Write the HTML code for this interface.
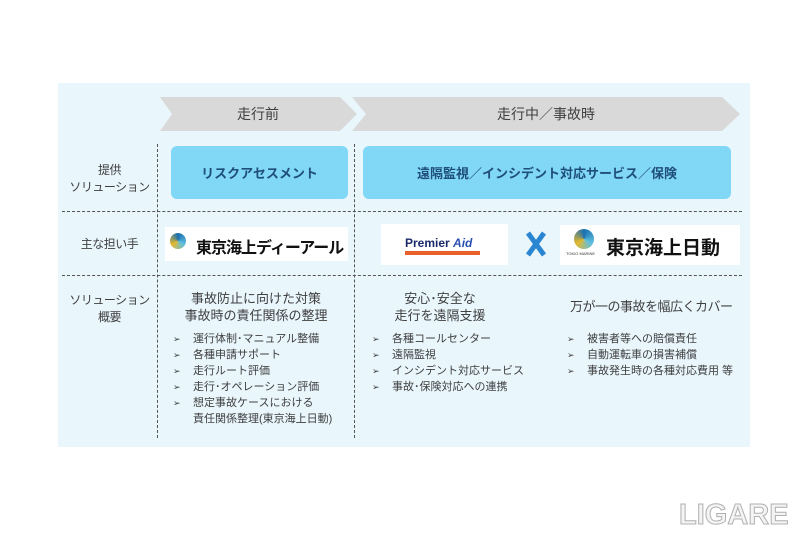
<!DOCTYPE html>
<html><head><meta charset="utf-8"><style>
*{margin:0;padding:0;box-sizing:border-box}
body{width:800px;height:533px;background:#fff;position:relative;overflow:hidden;font-family:"Liberation Sans","Noto Sans CJK JP",sans-serif;color:#404040}
.a{position:absolute;white-space:nowrap}
.panel{left:58px;top:83px;width:692px;height:364px;background:#e9f6fc}
.blue{background:#80d8f6;border-radius:6px;color:#1f4e79;font-weight:bold;font-size:13px;display:flex;align-items:center;justify-content:center}
.hd{border-top:1px dashed #555;height:0}
.vd{border-left:1px dashed #555;width:0}
.lbl{font-size:12px;text-align:center;line-height:17px;color:#404040;letter-spacing:-0.5px}
.t{font-size:13px;text-align:center;line-height:17px}
.li{font-size:11px;line-height:16px}
.li span{display:inline-block;width:20px;font-size:9px}
.wb{background:#fff}
</style></head><body>
<div class="a panel"></div>
<svg class="a" style="left:0;top:0" width="800" height="533">
<polygon points="160,97 340,97 357,114 340,131 160,131 172,114" fill="#d9d9d9"/>
<polygon points="352,97 722,97 740,114 722,131 352,131 366,114" fill="#d9d9d9"/>
<path d="M528,233 L544,255 M544,233 L528,255" stroke="#2a86d0" stroke-width="5"/>
</svg>
<div class="a" style="left:160px;top:104px;width:196px;text-align:center;font-size:14px">走行前</div>
<div class="a" style="left:352px;top:104px;width:388px;text-align:center;font-size:14px">走行中／事故時</div>
<div class="a blue" style="left:171px;top:146px;width:177px;height:53px">リスクアセスメント</div>
<div class="a blue" style="left:363px;top:146px;width:368px;height:53px">遠隔監視／インシデント対応サービス／保険</div>
<div class="a hd" style="left:62px;top:211px;width:680px"></div>
<div class="a hd" style="left:62px;top:275px;width:680px"></div>
<div class="a vd" style="left:157px;top:144px;height:294px"></div>
<div class="a vd" style="left:354px;top:144px;height:294px"></div>
<div class="a lbl" style="left:62px;top:162px;width:95px">提供<br>ソリューション</div>
<div class="a lbl" style="left:62px;top:236px;width:95px">主な担い手</div>
<div class="a lbl" style="left:62px;top:292px;width:95px">ソリューション<br>概要</div>
<div class="a wb" style="left:165px;top:227px;width:183px;height:34px"></div>
<div class="a" style="left:170px;top:233px;width:16px;height:16px;border-radius:50%;background:conic-gradient(#1a6fb0,#5fc0e0,#e6b82c,#1a6fb0)"></div>
<div class="a" style="left:196px;top:234px;font-size:16px;font-weight:bold;color:#111;letter-spacing:-1px">東京海上ディーアール</div>
<div class="a wb" style="left:381px;top:224px;width:127px;height:41px"></div>
<div class="a" style="left:405px;top:236px;font-size:12px;font-weight:bold;color:#1a2a6a">Premier <i style="color:#2a50b0">Aid</i></div>
<div class="a" style="left:405px;top:251px;width:75px;height:4px;background:#e8602a"></div>
<div class="a wb" style="left:560px;top:225px;width:180px;height:40px"></div>
<div class="a" style="left:574px;top:229px;width:20px;height:20px;border-radius:50%;background:conic-gradient(#1a6fb0,#5fc0e0,#e6b82c,#1a6fb0)"></div>
<div class="a" style="left:566px;top:251px;font-size:4px;color:#333">TOKIO MARINE</div>
<div class="a" style="left:606px;top:233px;font-size:19px;font-weight:bold;color:#111">東京海上日動</div>
<div class="a t" style="left:158px;top:290px;width:196px">事故防止に向けた対策<br>事故時の責任関係の整理</div>
<div class="a li" style="left:173px;top:331px">
<div><span>➢</span>運行体制･マニュアル整備</div>
<div><span>➢</span>各種申請サポート</div>
<div><span>➢</span>走行ルート評価</div>
<div><span>➢</span>走行･オペレーション評価</div>
<div><span>➢</span>想定事故ケースにおける</div>
<div><span></span>責任関係整理(東京海上日動)</div></div>
<div class="a t" style="left:355px;top:290px;width:170px">安心･安全な<br>走行を遠隔支援</div>
<div class="a li" style="left:372px;top:331px">
<div><span>➢</span>各種コールセンター</div>
<div><span>➢</span>遠隔監視</div>
<div><span>➢</span>インシデント対応サービス</div>
<div><span>➢</span>事故･保険対応への連携</div></div>
<div class="a t" style="left:570px;top:298px;letter-spacing:-0.5px">万が一の事故を幅広くカバー</div>
<div class="a li" style="left:567px;top:331px">
<div><span>➢</span>被害者等への賠償責任</div>
<div><span>➢</span>自動運転車の損害補償</div>
<div><span>➢</span>事故発生時の各種対応費用 等</div></div>
<div class="a" style="left:679px;top:499px;font-size:29px;font-weight:bold;color:#f4f4f4;-webkit-text-stroke:1px #b0b0b0;letter-spacing:0px">LIGARE</div>
</body></html>
